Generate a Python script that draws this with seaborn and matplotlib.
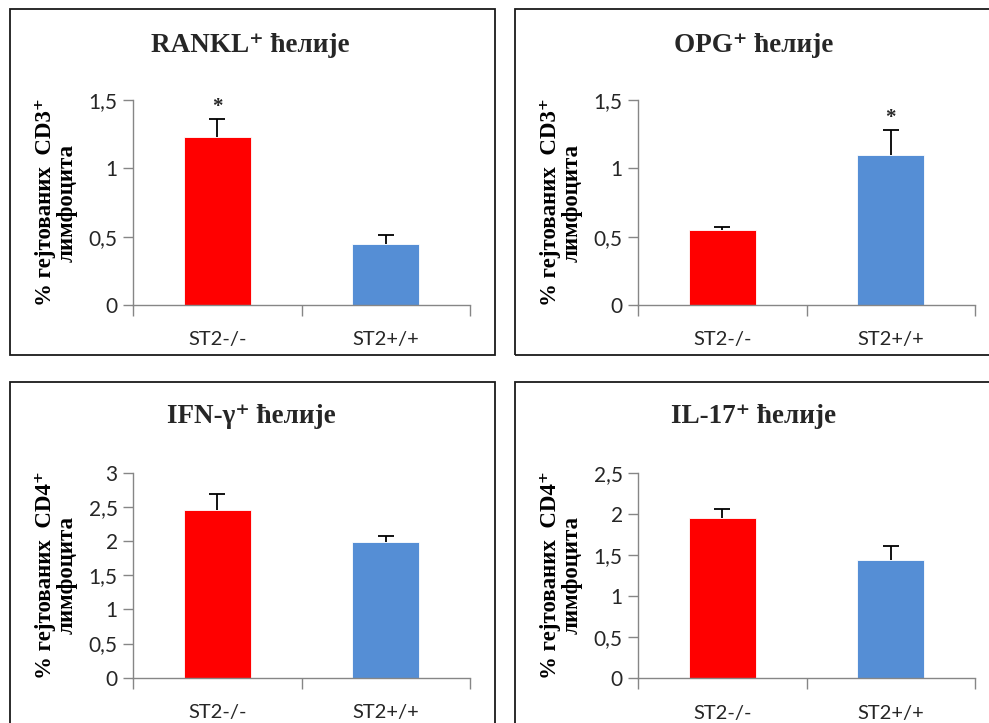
import matplotlib
matplotlib.use('Agg')
import matplotlib.pyplot as plt
from matplotlib.patches import Rectangle
from matplotlib.ticker import FuncFormatter, MultipleLocator
import seaborn as sns

groups = ['ST2-/-', 'ST2+/+']
colors = ['#FF0000', '#558ED5']

rankl_mean = [1.23, 0.45]
rankl_sem = [0.13, 0.06]
opg_mean = [0.55, 1.10]
opg_sem = [0.02, 0.18]
ifn_mean = [2.46, 1.98]
ifn_sem = [0.23, 0.10]
il17_mean = [1.95, 1.44]
il17_sem = [0.11, 0.17]

titles = ['RANKL⁺ ћелије', 'OPG⁺ ћелије', 'IFN-γ⁺ ћелије', 'IL-17⁺ ћелије']
ylabels = ['% гејтованих  CD3⁺\nлимфоцита', '% гејтованих  CD3⁺\nлимфоцита',
           '% гејтованих  CD4⁺\nлимфоцита', '% гејтованих  CD4⁺\nлимфоцита']
ymax = [1.5, 1.5, 3, 2.5]
stars = [[True, False], [False, True], [False, False], [False, False]]

sns.set_style('white')
serif = ['Liberation Serif', 'DejaVu Serif']
plt.rcParams['font.family'] = ['Lato', 'DejaVu Sans']

W, H = 989, 723
fig = plt.figure(figsize=(W / 100, H / 100), dpi=100)

# panel frames (px: x0, y0, x1, y1)
frames = [(9.5, 9.5, 494.5, 354.5), (514.5, 9.5, 995, 354.5),
          (9.5, 381.5, 494.5, 730), (514.5, 381.5, 995, 730)]
for x0, y0, x1, y1 in frames:
    fig.add_artist(Rectangle((x0 / W, 1 - y1 / H), (x1 - x0) / W, (y1 - y0) / H,
                             transform=fig.transFigure, fill=False,
                             edgecolor='#1a1a1a', linewidth=1.3))

# axes boxes in px (left, top, right, bottom)
boxes = [(133, 100, 470, 305), (638, 100, 975, 305),
         (133, 472.7, 470, 677.7), (638, 472.7, 975, 678.3)]
data = [(rankl_mean, rankl_sem), (opg_mean, opg_sem),
        (ifn_mean, ifn_sem), (il17_mean, il17_sem)]
title_pos = [(250, 45), (754, 45), (251, 417), (754, 417)]

comma = FuncFormatter(lambda v, p: ('%g' % v).replace('.', ','))

for i, (box, (mean, sem)) in enumerate(zip(boxes, data)):
    l, t, r, b = box
    ax = fig.add_axes([l / W, 1 - b / H, (r - l) / W, (b - t) / H])
    sns.barplot(x=groups, y=mean, hue=groups, palette=colors, legend=False,
                width=0.4, errorbar=None, ax=ax, saturation=1,
                edgecolor='white', linewidth=0.6)
    eb = ax.errorbar(range(len(groups)), mean, yerr=[[0] * len(mean), sem],
                     fmt='none', ecolor='black', elinewidth=1.3, capsize=6, capthick=1.3)
    eb[1][0].set_visible(False)  # only the upper cap, like Excel "plus" bars
    for j, s in enumerate(stars[i]):
        if s:
            ax.text(j, mean[j] + sem[j] + ymax[i] * 0.06, '*', ha='center',
                    va='center', fontsize=15, family=serif, fontweight='bold')
    ax.set_xlim(-0.5, 1.5)
    ax.set_ylim(0, ymax[i])
    ax.yaxis.set_major_locator(MultipleLocator(0.5))
    ax.yaxis.set_major_formatter(comma)
    ax.set_xticks([-0.5, 0.5, 1.5])
    ax.set_xticklabels([])
    ax.set_xticks([0, 1], minor=True)
    ax.set_xticklabels(groups, minor=True)
    ax.tick_params(axis='x', which='major', bottom=True, length=8, width=1,
                   color='#868686', direction='out')
    ax.tick_params(axis='x', which='minor', bottom=True, length=0, pad=19,
                   labelsize=14.5, labelcolor='#262626')
    ax.tick_params(axis='y', left=True, length=7, width=1, color='#868686', direction='out',
                   labelsize=15, labelcolor='#262626', pad=4)
    for side in ['top', 'right']:
        ax.spines[side].set_visible(False)
    for side in ['left', 'bottom']:
        ax.spines[side].set_color('#868686')
        ax.spines[side].set_linewidth(1)
    ax.set_ylabel(ylabels[i], family=serif, fontweight='bold', fontsize=16.5,
                  linespacing=1.05, color='black')
    ax.yaxis.set_label_coords(-0.165, 0.5)
    tx, ty = title_pos[i]
    fig.text(tx / W, 1 - ty / H, titles[i], ha='center', va='center',
             family=serif, fontweight='bold', fontsize=19.5)

fig.savefig('out.png', dpi=100)
